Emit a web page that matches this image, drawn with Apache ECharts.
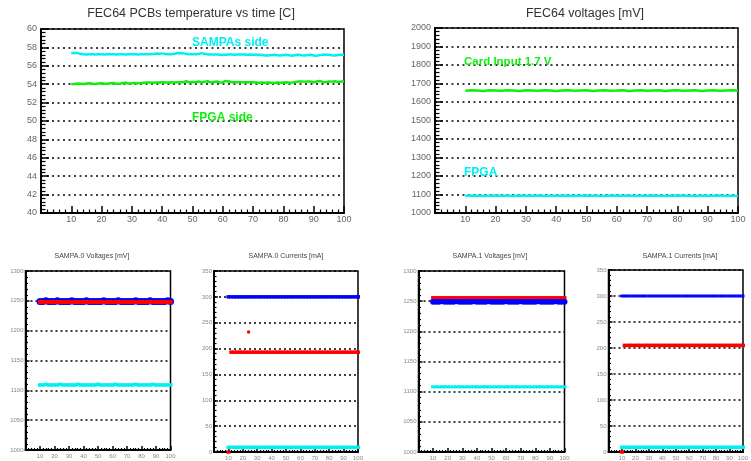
<!DOCTYPE html>
<html>
<head>
<meta charset="utf-8">
<script src="https://cdn.jsdelivr.net/npm/echarts@6/dist/echarts.min.js"></script>
<style>html,body{margin:0;padding:0;background:#fff;}#c{width:751px;height:461px;}</style>
</head>
<body>
<div id="c"></div>
<script>
// ---- time axes ----
const timesA = [10,11,12,13,14,15,16,17,18,19,20,21,22,23,24,25,26,27,28,29,30,31,32,33,34,35,36,37,38,39,40,41,42,43,44,45,46,47,48,49,50,51,52,53,54,55,56,57,58,59,60,61,62,63,64,65,66,67,68,69,70,71,72,73,74,75,76,77,78,79,80,81,82,83,84,85,86,87,88,89,90,91,92,93,94,95,96,97,98,99,100];
const timesB = [10,12,14,16,18,20,22,24,26,28,30,32,34,36,38,40,42,44,46,48,50,52,54,56,58,60,62,64,66,68,70,72,74,76,78,80,82,84,86,88,90,92,94,96,98,100];

// ---- panel 1: temperatures [C] ----
const tempSampa = [57.40,57.40,57.38,57.30,57.26,
  57.24,57.25,57.25,57.24,57.25,57.25,57.24,57.25,57.25,57.25,57.24,57.25,57.25,57.24,57.25,57.25,57.25,57.24,57.25,57.25,57.26,57.25,57.27,
  57.33,57.30,57.35,57.28,57.25,57.26,57.30,57.36,57.38,57.35,57.30,57.26,57.25,57.25,57.28,57.38,57.30,57.24,
  57.23,57.22,57.22,57.20,57.18,57.20,57.22,57.22,57.21,57.22,57.22,57.22,57.21,57.22,57.20,57.20,57.19,57.18,
  57.12,57.12,57.18,57.20,57.15,57.12,57.18,57.20,57.14,57.10,57.18,57.20,57.15,57.12,57.18,57.20,57.12,57.10,57.16,57.20,57.21,57.20,57.14,57.12,57.18,57.20,57.20];
const tempFpga = [54.00,54.02,54.08,54.05,54.02,54.08,54.10,54.04,54.02,54.08,
  54.10,54.05,54.04,54.10,54.12,54.06,54.05,54.12,54.15,54.08,54.10,54.12,54.10,54.12,54.15,
  54.18,54.18,54.15,54.18,54.18,54.20,54.18,54.18,54.20,54.18,54.20,54.20,54.22,
  54.32,54.20,54.25,54.22,54.30,54.18,54.28,54.32,54.20,54.25,54.30,54.18,54.22,54.35,54.30,
  54.22,54.22,54.20,54.20,54.22,54.20,54.22,54.20,54.18,54.15,54.18,54.15,54.18,54.15,54.12,54.18,
  54.15,54.18,54.20,54.15,54.18,54.25,54.30,54.30,54.28,54.30,54.30,54.22,54.30,54.35,54.25,54.22,54.30,54.28,54.32,54.25,54.30,54.28];

// ---- panel 2: FEC64 voltages [mV] ----
const voltCardInput = [1661,1663,1662,1660,1663,1662,1661,1664,1662,1660,1663,1662,1661,1663,1662,1660,1662,1664,1661,1662,1663,1660,1662,1663,1661,1662,1664,1660,1662,1663,1661,1662,1663,1660,1662,1664,1661,1662,1663,1660,1662,1663,1661,1662,1663,1662];
const voltFpga = [1093,1094,1093,1092,1093,1094,1093,1093,1092,1094,1093,1093,1094,1092,1093,1093,1094,1093,1092,1093,1094,1093,1093,1092,1094,1093,1093,1094,1092,1093,1093,1094,1093,1092,1093,1094,1093,1093,1092,1094,1093,1093,1094,1092,1093,1093];

// ---- panel 3: SAMPA.0 voltages [mV] ----
const s0VoltBlue = [1249,1249,1250,1249,1249,1249,1250,1249,1249,1249,1249,1250,1249,1249,1249,1249,1250,1249,1249,1249,1249,1249,1250,1249,1249,1249,1249,1250,1249,1249,1249,1249,1249,1250,1249,1249,1249,1249,1250,1249,1249,1249,1249,1249,1250,1249];
const s0VoltRed = [1248,1248,1248,1248,1248,1248,1248,1248,1248,1248,1248,1248,1248,1248,1248,1248,1248,1248,1248,1248,1248,1248,1248,1248,1248,1248,1248,1248,1248,1248,1248,1248,1248,1248,1248,1248,1248,1248,1248,1248,1248,1248,1248,1248,1248,1248];
const s0VoltCyan = [1109,1109,1110,1109,1109,1109,1109,1110,1109,1109,1109,1109,1109,1110,1109,1109,1109,1109,1109,1109,1110,1109,1109,1109,1109,1109,1110,1109,1109,1109,1109,1109,1109,1110,1109,1109,1109,1109,1109,1110,1109,1109,1109,1109,1109,1109];

// ---- panel 4: SAMPA.0 currents [mA] ----
const s0CurBlue = [300,300,300,300,300,300,300,300,300,300,300,300,300,300,300,300,300,300,300,300,300,300,300,300,300,300,300,300,300,300,300,300,300,300,300,300,300,300,300,300,300,300,300,300,300,300];
const s0CurRed = [0,193,193,193,193,193,193,193,193,193,193,193,193,193,193,193,193,193,193,193,193,193,193,193,193,193,193,193,193,193,193,193,193,193,193,193,193,193,193,193,193,193,193,193,193,193];
const s0CurRedOutlierT = [24];
const s0CurRedOutlierV = [232];
const s0CurCyan = [9,9,9,9,9,9,9,9,9,9,9,9,9,9,9,9,9,9,9,9,9,9,9,9,9,9,9,9,9,9,9,9,9,9,9,9,9,9,9,9,9,9,9,9,9,9];

// ---- panel 5: SAMPA.1 voltages [mV] ----
const s1VoltRed = [1256,1256,1256,1256,1256,1256,1256,1256,1256,1256,1256,1256,1256,1256,1256,1256,1256,1256,1256,1256,1256,1256,1256,1256,1256,1256,1256,1256,1256,1256,1256,1256,1256,1256,1256,1256,1256,1256,1256,1256,1256,1256,1256,1256,1256,1256];
const s1VoltBlue = [1249,1249,1249,1250,1249,1249,1249,1249,1250,1249,1249,1249,1249,1249,1250,1249,1249,1249,1249,1250,1249,1249,1249,1249,1249,1250,1249,1249,1249,1249,1250,1249,1249,1249,1249,1249,1250,1249,1249,1249,1249,1249,1250,1249,1249,1249];
const s1VoltCyan = [1108,1108,1108,1108,1108,1108,1108,1108,1108,1108,1108,1108,1108,1108,1108,1108,1108,1108,1108,1108,1108,1108,1108,1108,1108,1108,1108,1108,1108,1108,1108,1108,1108,1108,1108,1108,1108,1108,1108,1108,1108,1108,1108,1108,1108,1108];

// ---- panel 6: SAMPA.1 currents [mA] ----
const s1CurBlue = [300,300,300,300,300,300,300,300,300,300,300,300,300,300,300,300,300,300,300,300,300,300,300,300,300,300,300,300,300,300,300,300,300,300,300,300,300,300,300,300,300,300,300,300,300,300];
const s1CurRed = [0,205,205,205,205,205,205,205,205,205,205,205,205,205,205,205,205,205,205,205,205,205,205,205,205,205,205,205,205,205,205,205,205,205,205,205,205,205,205,205,205,205,205,205,205,205];
const s1CurCyan = [9,9,9,9,9,9,9,9,9,9,9,9,9,9,9,9,9,9,9,9,9,9,9,9,9,9,9,9,9,9,9,9,9,9,9,9,9,9,9,9,9,9,9,9,9,9];

// ---- titles / annotations ----
const titles = ["FEC64 PCBs temperature vs time [C]","FEC64 voltages [mV]","SAMPA.0 Voltages [mV]","SAMPA.0 Currents [mA]","SAMPA.1 Voltages [mV]","SAMPA.1 Currents [mA]"];

const FONT = '"Liberation Sans", Arial, sans-serif';
const CYAN = '#00f0f0', GREEN = '#10ee10', BLUE = '#0000ff', RED = '#ff0000';

function pairs(ts, vs){ return vs.map((v,i)=>[ts[i], v]); }

const grids = [
  {left:41, top:29, width:303, height:184},
  {left:435, top:28, width:303, height:185},
  {left:25.5, top:271, width:145, height:179},
  {left:214, top:271, width:144, height:182},
  {left:418.5, top:271, width:146, height:181},
  {left:608.5, top:270, width:144, height:183}
].map(g => Object.assign(g, {show:true, borderColor:'#000', borderWidth:1.5, containLabel:false}));

const big = [true,true,false,false,false,false];
const yRanges = [[40,60,2],[1000,2000,100],[1000,1300,50],[0,350,50],[1000,1300,50],[0,350,50]];

const xAxes = grids.map((g,i)=>({
  type:'value', gridIndex:i, min:0, max:100, interval:10,
  axisLine:{lineStyle:{color:'#000', width:2}},
  axisTick:{show:true, inside:true, length: big[i]?7:4, lineStyle:{color:'#000', width:1.5}},
  minorTick:{show:true, splitNumber:5, length: big[i]?3.5:2, lineStyle:{color:'#000', width:1.2}},
  splitLine:{show:false},
  axisLabel:{showMinLabel:false, fontSize: big[i]?9:6, color: big[i]?'#666':'#888', fontFamily:FONT, margin: big[i]?2:3,
    formatter: v => String(v)}
}));

const yAxes = grids.map((g,i)=>({
  type:'value', gridIndex:i, min:yRanges[i][0], max:yRanges[i][1], interval:yRanges[i][2],
  axisLine:{lineStyle:{color:'#000', width:2}},
  axisTick:{show:true, inside:true, length: big[i]?8:4, lineStyle:{color:'#000', width:1.5}},
  minorTick:{show:true, splitNumber:5, length: big[i]?4.5:2.5, lineStyle:{color:'#000', width:1.2}},
  splitLine:{show:true, lineStyle:{color:'#000', width: big[i]?1.6:1.5, type: big[i]?[2,3.5]:[2,3]}},
  axisLabel:{fontSize: big[i]?9:6, color: big[i]?'#666':'#888', fontFamily:FONT, margin: big[i]?4:2,
    formatter: v => String(v)}
}));

function lineS(i, ts, vs, color, w){
  return {type:'line', xAxisIndex:i, yAxisIndex:i, data:pairs(ts,vs), showSymbol:false, symbol:'none',
    lineStyle:{color:color, width:w}, itemStyle:{color:color}, z:3};
}
function scat(i, ts, vs, color, symbol, size, z){
  return {type:'scatter', xAxisIndex:i, yAxisIndex:i, data:pairs(ts,vs), symbol:symbol, symbolSize:size,
    itemStyle:{color:color, opacity:1}, z:z||3};
}

const series = [
  lineS(0, timesA, tempSampa, CYAN, 2.5),
  lineS(0, timesA, tempFpga, GREEN, 2.5),
  lineS(1, timesB, voltCardInput, GREEN, 2.5),
  lineS(1, timesB, voltFpga, CYAN, 2.5),
  scat(2, timesB, s0VoltBlue, BLUE, 'circle', 7, 3),
  scat(2, timesB, s0VoltRed, RED, 'rect', [4,4], 4),
  scat(2, timesB, s0VoltCyan, CYAN, 'rect', [4,3.5], 3),
  scat(3, timesB, s0CurBlue, BLUE, 'rect', [4,3.5], 3),
  scat(3, timesB, s0CurRed, RED, 'rect', [4,3.5], 3),
  scat(3, s0CurRedOutlierT, s0CurRedOutlierV, RED, 'circle', 3.5, 3),
  scat(3, timesB, s0CurCyan, CYAN, 'rect', [4,3.5], 3),
  scat(4, timesB, s1VoltBlue, BLUE, 'circle', 6, 3),
  scat(4, timesB, s1VoltRed, RED, 'rect', [4,3], 4),
  scat(4, timesB, s1VoltCyan, CYAN, 'rect', [4,3], 3),
  scat(5, timesB, s1CurBlue, BLUE, 'rect', [3,3], 3),
  scat(5, timesB, s1CurRed, RED, 'rect', [4,3.5], 3),
  scat(5, timesB, s1CurCyan, CYAN, 'rect', [4,3.5], 3)
];

function txt(x, y, text, size, color, weight){
  return {type:'text', x:x, y:y, z:100, silent:true,
    style:{text:text, fontSize:size, fontFamily:FONT, fontWeight:weight||'normal', fill:color, align:'center', verticalAlign:'middle'}};
}
function ltxt(x, y, text, size, color){
  return {type:'text', x:x, y:y, z:100, silent:true,
    style:{text:text, fontSize:size, fontFamily:FONT, fontWeight:'bold', fill:color, align:'left', verticalAlign:'middle'}};
}

const graphic = [
  txt(191, 14, titles[0], 12.5, '#333'),
  txt(585, 14, titles[1], 12.5, '#333'),
  txt(92, 256.5, titles[2], 7, '#444'),
  txt(286, 256.5, titles[3], 7, '#444'),
  txt(490, 256.5, titles[4], 7, '#444'),
  txt(680, 256.5, titles[5], 7, '#444'),
  ltxt(192, 43, 'SAMPAs side', 12, CYAN),
  ltxt(192, 117.5, 'FPGA side', 12, GREEN),
  ltxt(464, 62, 'Card Input 1.7 V', 11.5, GREEN),
  ltxt(464, 172.5, 'FPGA', 12, CYAN)
];

const chart = echarts.init(document.getElementById('c'), null, {renderer:'canvas'});
chart.setOption({
  animation:false,
  backgroundColor:'#fff',
  textStyle:{fontFamily:FONT},
  grid:grids, xAxis:xAxes, yAxis:yAxes, series:series, graphic:graphic
});
</script>
</body>
</html>
